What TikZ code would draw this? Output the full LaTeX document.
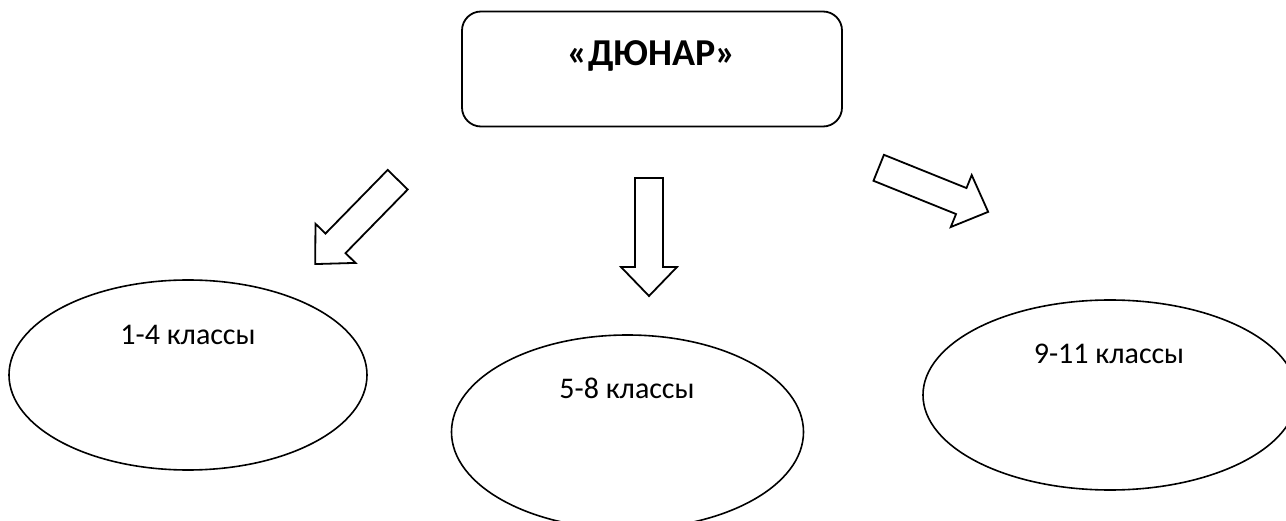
\documentclass[tikz,border=0pt]{standalone}
\usepackage{fontspec}
\setmainfont{Carlito}
\usetikzlibrary{shapes.geometric}

\tikzset{
    titlebox/.style={draw, line width=1.8pt, rounded corners=19pt,
        minimum width=380pt, minimum height=115pt, inner sep=0pt,
        text height=24pt, text depth=31.8pt,
        font=\fontsize{38}{44}\selectfont\bfseries},
    classoval/.style={draw, ellipse, line width=1.6pt, inner sep=0pt},
    classtext/.style={anchor=base, font=\fontsize{30}{36}\selectfont},
    blockarrow/.pic={
        \draw[line width=1.8pt, line join=miter]
            (0,-14)--(89,-14)--(89,-28)--(118,0)--(89,28)--(89,14)--(0,14)--cycle;
    }
}

\begin{document}
\begin{tikzpicture}[x=1pt, y=-1pt]
    \useasboundingbox (0,0) rectangle (1286,521);
    \node[titlebox] (dunar) at (652,69) {«ДЮНАР»};
    \pic[rotate=225.65] at (397.7,179.7) {blockarrow};
    \pic[rotate=-90] at (649,178) {blockarrow};
    \pic[rotate=-21.94] at (878.7,167.8) {blockarrow};
    \node[classoval, minimum width=358pt, minimum height=190pt] (cl14) at (188,375) {};
    \node[classoval, minimum width=352pt, minimum height=194pt] (cl58) at (627.5,432) {};
    \node[classoval, minimum width=374pt, minimum height=190pt] (cl911) at (1110,395) {};
    \node[classtext] (t14) at (188,345) {1-4 классы};
    \node[classtext] (t58) at (627,399) {5-8 классы};
    \node[classtext] (t911) at (1109,364) {9-11 классы};
\end{tikzpicture}
\end{document}
